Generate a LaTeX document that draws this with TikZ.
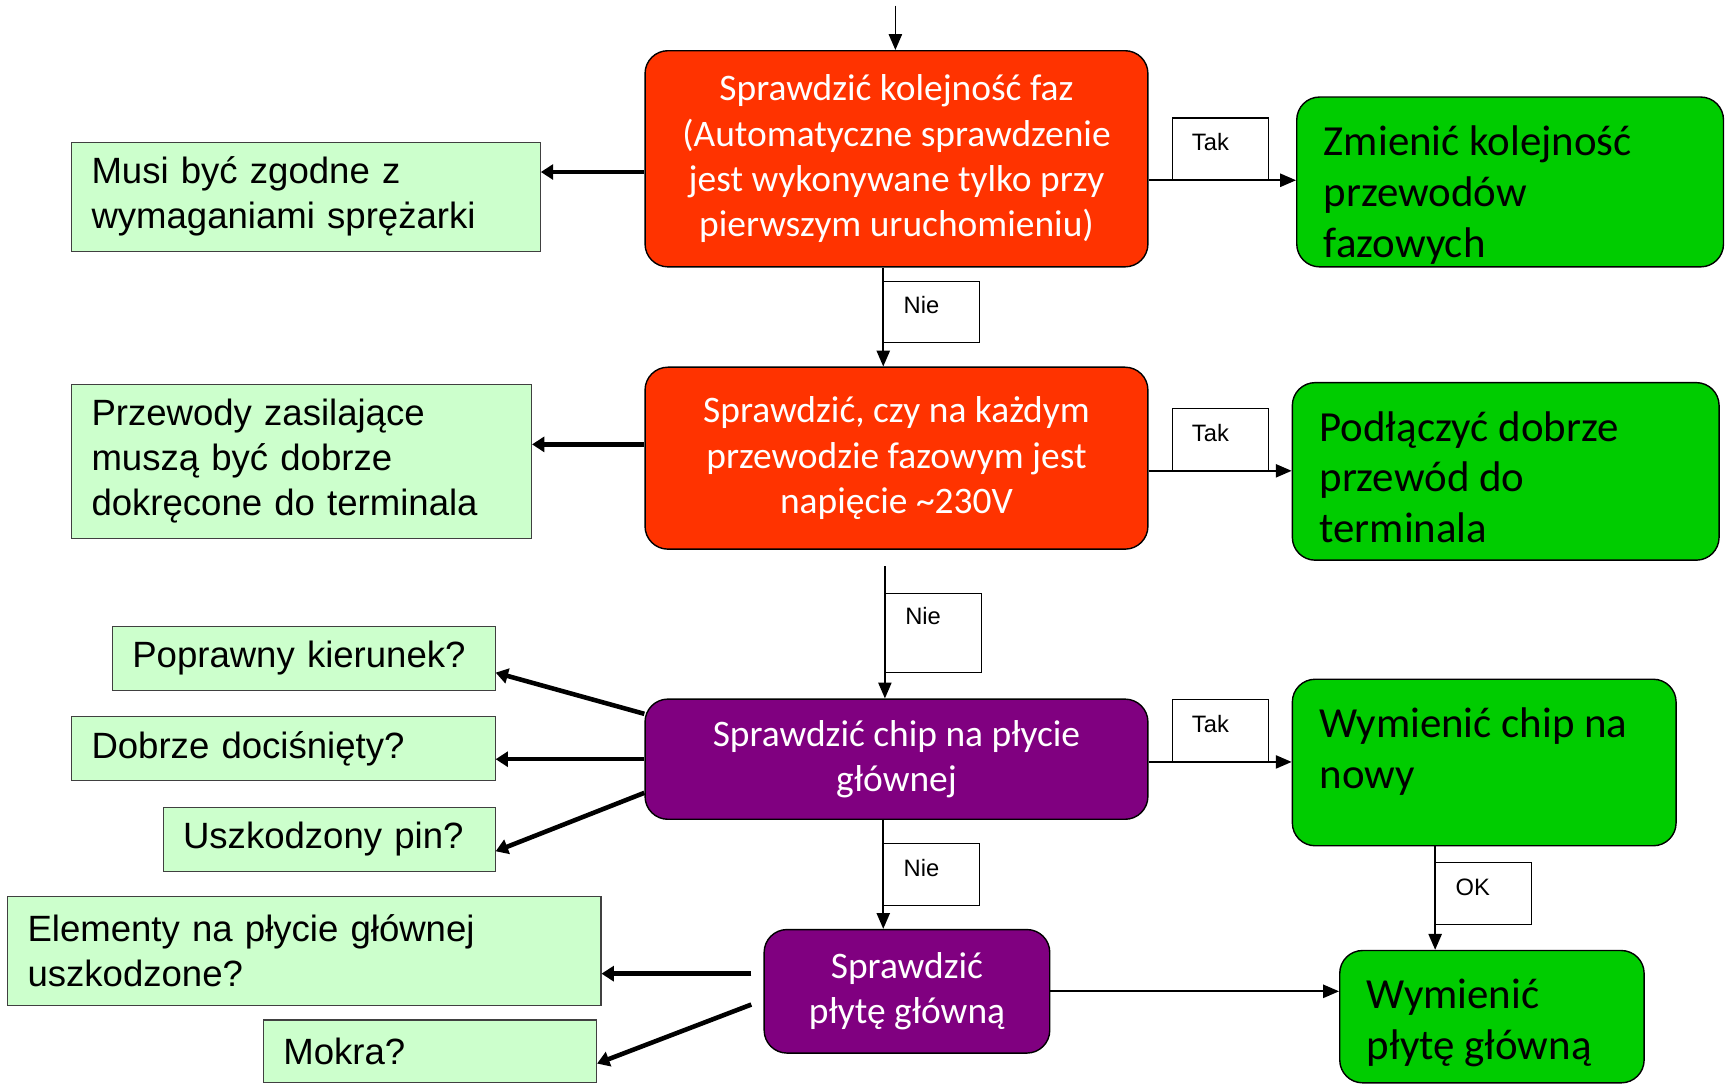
\documentclass[tikz,border=0pt]{standalone}
\usepackage{fontspec}
\setmainfont{Carlito}
\newfontfamily\arialfont{Liberation Sans}
\usepackage{xcolor}
\usetikzlibrary{positioning,calc,arrows.meta}
\definecolor{checkRed}{HTML}{FF3300}
\definecolor{fixGreen}{HTML}{00CC00}
\definecolor{chipPurple}{HTML}{800080}
\definecolor{noteGreen}{HTML}{CCFFCC}
\tikzstyle{redBox}   =[rectangle, rounded corners=13pt, draw, line width=0.8pt, fill=checkRed, text=white, align=center, font=\fontsize{21.3}{25.8}\selectfont]
\tikzstyle{purpleBox}=[redBox, fill=chipPurple]
\tikzstyle{greenBox} =[rectangle, rounded corners=13pt, draw, line width=0.8pt, fill=fixGreen]
\tikzstyle{greenText}=[anchor=north west, align=left, inner sep=0pt, xshift=0.55cm, yshift=-0.58cm, font=\fontsize{24.4}{28.9}\selectfont]
\tikzstyle{noteBox}  =[rectangle, draw=black!75, line width=0.6pt, fill=noteGreen, align=left, inner xsep=0.397cm, inner ysep=0pt, font=\arialfont\fontsize{20.8}{25.6}\selectfont]
\tikzstyle{tagBox}   =[rectangle, draw, line width=0.6pt, fill=white, align=left, text width=1.125cm, inner xsep=0.397cm, inner ysep=0pt, minimum height=1.235cm, text height=9.7pt, text depth=7.5pt, font=\arialfont\fontsize{13.5}{16}\selectfont]
\tikzstyle{flow}     =[->, line width=1pt]
\tikzstyle{thickFlow}=[-{Triangle[length=7pt,width=8.5pt]}, line width=2.6pt]

\begin{document}
\begin{tikzpicture}[x=0.02205cm, y=-0.02205cm, >={Triangle[length=9pt,width=7.5pt]}]
      \useasboundingbox (0,0) rectangle (1568,987);
      % checks in the middle column
      \node[redBox, minimum width=10.055cm, minimum height=4.322cm] (faz) at (813,144)
        {Sprawdzić kolejność faz\\(Automatyczne sprawdzenie\\jest wykonywane tylko przy\\pierwszym uruchomieniu)};
      \node[redBox, minimum width=10.055cm, minimum height=3.638cm] (nap) at (813,415.5)
        {Sprawdzić, czy na każdym\\przewodzie fazowym jest\\napięcie \textasciitilde230V};
      \node[purpleBox, minimum width=10.055cm, minimum height=2.403cm] (chip) at (813,688.5)
        {Sprawdzić chip na płycie\\głównej};
      \node[purpleBox, minimum width=5.711cm, minimum height=2.470cm] (plyta) at (822.5,899)
        {Sprawdzić\\płytę główną};
      % fixes on the right
      \node[greenBox, minimum width=8.533cm, minimum height=3.396cm,
        label={[greenText]north west:{Zmienić kolejność\\przewodów\\fazowych}}] (zmiana) at (1369.5,165) {};
      \node[greenBox, minimum width=8.533cm, minimum height=3.550cm,
        label={[greenText]north west:{Podłączyć dobrze\\przewód do\\terminala}}] (podl) at (1365.5,427.5) {};
      \node[greenBox, minimum width=7.673cm, minimum height=3.330cm,
        label={[greenText]north west:{Wymienić chip na\\nowy}}] (wymchip) at (1346,691.5) {};
      \node[greenBox, minimum width=6.086cm, minimum height=2.646cm,
        label={[greenText]north west:{Wymienić\\płytę główną}}] (wymplyta) at (1353,922) {};
      % notes on the left
      \node[noteBox, text width=8.577cm, minimum height=2.183cm] (musi) at (277.5,178.5)
        {Musi być zgodne z\\wymaganiami sprężarki};
      \node[noteBox, text width=8.401cm, minimum height=3.065cm] (przew) at (273.5,418.5)
        {Przewody zasilające\\muszą być dobrze\\dokręcone do terminala};
      \node[noteBox, text width=6.858cm, minimum height=1.279cm] (kier) at (275.5,597) {Poprawny kierunek?};
      \node[noteBox, text width=7.673cm, minimum height=1.279cm] (docis) at (257,679) {Dobrze dociśnięty?};
      \node[noteBox, text width=5.843cm, minimum height=1.279cm] (pin) at (298.5,761) {Uszkodzony pin?};
      \node[noteBox, text width=11.069cm, minimum height=2.183cm] (elem) at (276,862.5)
        {Elementy na płycie głównej\\uszkodzone?};
      \node[noteBox, text width=5.865cm, minimum height=1.257cm] (mokra) at (390,953.5) {Mokra?};
      % answer tags
      \node[tagBox] (tak1) at (1106.5,135) {Tak};
      \node[tagBox] (tak2) at (1106.5,398.5) {Tak};
      \node[tagBox] (tak3) at (1106.5,662.5) {Tak};
      \node[tagBox] (nie1) at (845,283) {Nie};
      \node[tagBox, minimum height=1.588cm, text depth=18.8pt] (nie2) at (846.5,574) {Nie};
      \node[tagBox] (nie3) at (845,793) {Nie};
      \node[tagBox] (ok) at (1345.5,810) {OK};
      % connectors
      \coordinate (in) at (812,5);
      \draw[flow] (in) -- (in |- faz.north);
      \draw[flow] (faz.east |- tak1.south) -- (zmiana.west |- tak1.south);
      \draw[thickFlow] ($(faz.west)+(0,12)$) coordinate (f1) -- (f1 -| musi.east);
      \draw[flow] (faz.south -| nie1.west) -- (nap.north -| nie1.west);
      \draw[flow] (nap.east |- tak2.south) -- (podl.west |- tak2.south);
      \draw[thickFlow] ($(nap.west)+(0,-12.5)$) coordinate (n1) -- (n1 -| przew.east);
      \draw[flow] ($(nap.south -| nie2.west)+(0,15)$) -- (chip.north -| nie2.west);
      \draw[flow] (chip.east |- tak3.south) -- (wymchip.west |- tak3.south);
      \draw[thickFlow] ($(chip.north west)+(0,14)$) -- ($(kier.east)+(0,13)$);
      \draw[thickFlow] (chip.west) -- (chip.west -| docis.east);
      \draw[thickFlow] ($(chip.west)+(0,30.5)$) -- ($(pin.east)+(0,11)$);
      \draw[flow] (chip.south -| nie3.west) -- (plyta.north -| nie3.west);
      \draw[flow] (plyta.east) -- (plyta.east -| wymplyta.west);
      \draw[flow] (wymchip.south -| ok.west) -- (wymplyta.north -| ok.west);
      \draw[thickFlow] ($(plyta.west)+(-11,-16)$) coordinate (p1) -- (p1 -| elem.east);
      \draw[thickFlow] ($(plyta.west)+(-11,12)$) -- ($(mokra.east)+(0,11)$);
    \end{tikzpicture}
\end{document}
